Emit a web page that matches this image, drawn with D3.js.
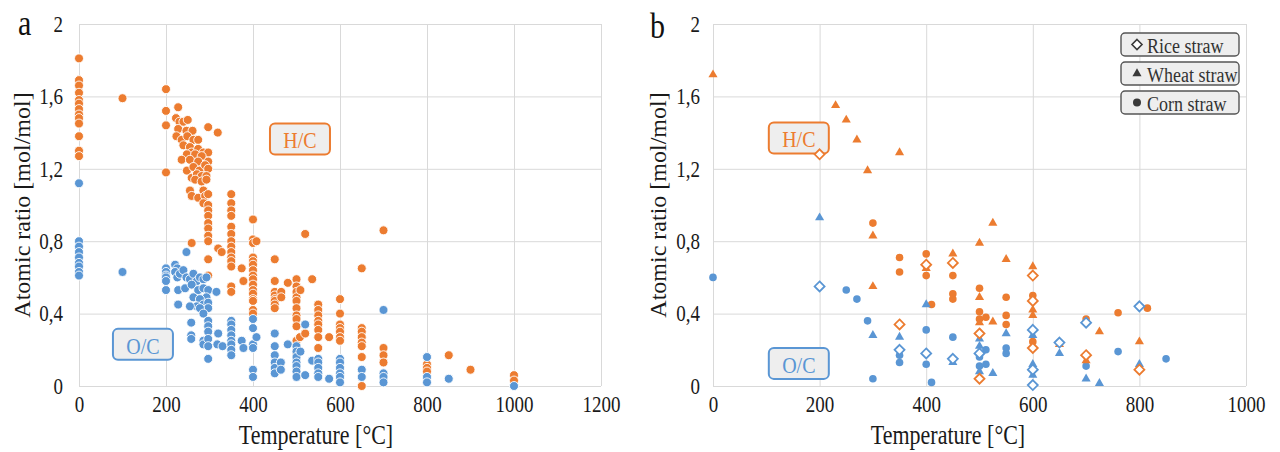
<!DOCTYPE html>
<html><head><meta charset="utf-8">
<script src="https://cdn.jsdelivr.net/npm/d3@7"></script>
<style>
html,body{margin:0;padding:0;background:#fff;}
svg{display:block;}
</style></head><body>
<svg id="chart" width="1280" height="452"></svg>
<script>
// ---------- data ----------
const tempTicksA = [0, 200, 400, 600, 800, 1000, 1200];
const tempTicksB = [0, 200, 400, 600, 800, 1000];
const ratioTicks = [0, 0.4, 0.8, 1.2, 1.6, 2];
const panelLetters = ["a", "b"];
const xTitle = "Temperature [°C]";
const yTitle = "Atomic ratio [mol/mol]";
const seriesNames = ["H/C", "O/C"];
const legendLabels = ["Rice straw", "Wheat straw", "Corn straw"];

// panel a — all straw chars, [temperature °C, ratio]
const hcAll = [
  [0,1.81],[0,1.69],[0,1.66],[0,1.62],[0,1.58],[0,1.56],[0,1.53],[0,1.50],[0,1.48],[0,1.45],[0,1.38],[0,1.30],[0,1.27],
  [100,1.59],
  [200,1.64],[200,1.52],[200,1.44],[200,1.18],
  [228,1.54],[223,1.48],[231,1.46],[240,1.46],[250,1.47],[228,1.42],[247,1.41],[261,1.41],[297,1.43],[319,1.40],
  [224,1.38],[236,1.36],[249,1.38],[263,1.36],[274,1.36],[240,1.33],[255,1.32],[259,1.29],[274,1.31],[286,1.29],[297,1.29],
  [248,1.28],[267,1.28],[282,1.27],[236,1.25],[255,1.25],[274,1.24],[297,1.24],[248,1.19],[263,1.21],[277,1.19],[290,1.22],[297,1.20],
  [259,1.15],[271,1.17],[282,1.16],[293,1.16],[267,1.14],[282,1.13],[293,1.14],[255,1.08],[286,1.08],[259,1.05],[274,1.04],[290,1.05],[297,1.06],
  [286,1.01],[297,1.00],[297,0.97],[297,0.94],[297,0.90],[297,0.87],[297,0.83],[297,0.80],[297,0.70],[297,0.61],
  [259,0.79],[320,0.76],[328,0.74],
  [350,1.06],[350,1.01],[350,0.97],[350,0.94],[350,0.88],[350,0.84],[350,0.80],[350,0.77],[350,0.74],[350,0.71],[350,0.69],[350,0.66],[350,0.55],[350,0.52],
  [374,0.65],[378,0.58],
  [400,0.92],[400,0.81],[400,0.79],[400,0.71],[400,0.69],[400,0.67],[400,0.64],[400,0.61],[400,0.59],[400,0.56],[400,0.53],[400,0.51],[400,0.48],[400,0.47],[400,0.42],[400,0.40],
  [408,0.80],
  [450,0.70],[450,0.58],[450,0.52],[450,0.50],[450,0.48],[450,0.47],[450,0.45],[450,0.43],
  [465,0.52],[465,0.49],[480,0.57],
  [500,0.59],[500,0.55],[500,0.52],[500,0.49],[500,0.47],[500,0.43],[500,0.39],[500,0.37],[500,0.33],[500,0.25],[500,0.21],[500,0.18],
  [509,0.53],[520,0.84],[536,0.59],[508,0.27],[520,0.29],
  [550,0.45],[550,0.42],[550,0.39],[550,0.36],[550,0.34],[550,0.31],[550,0.27],[550,0.21],
  [575,0.27],
  [600,0.48],[600,0.40],[600,0.34],[600,0.32],[600,0.30],[600,0.27],[600,0.25],
  [650,0.65],[650,0.32],[650,0.30],[650,0.27],[650,0.24],[650,0.22],[650,0.16],[650,0.00],
  [700,0.86],[700,0.21],[700,0.17],[700,0.13],
  [800,0.12],[800,0.10],[800,0.08],
  [850,0.17],[900,0.09],[1000,0.06],[1000,0.03]
];
const ocAll = [
  [0,1.12],[0,0.80],[0,0.77],[0,0.74],[0,0.71],[0,0.68],[0,0.66],[0,0.63],[0,0.61],
  [100,0.63],
  [200,0.65],[200,0.63],[200,0.61],[200,0.60],[200,0.58],[200,0.53],
  [247,0.74],
  [221,0.67],[226,0.65],[221,0.63],[226,0.60],[232,0.62],[240,0.64],[247,0.60],[255,0.59],[263,0.62],[271,0.58],[278,0.60],[286,0.59],[293,0.60],
  [228,0.53],[244,0.54],[259,0.56],[274,0.53],[286,0.54],[297,0.53],[293,0.49],[263,0.49],[278,0.48],[286,0.45],[271,0.44],[255,0.44],[228,0.45],
  [297,0.46],[297,0.43],[278,0.43],[286,0.40],[316,0.52],
  [258,0.35],[258,0.28],[258,0.26],[286,0.25],[286,0.23],[297,0.36],[297,0.33],[297,0.30],[297,0.26],[297,0.22],[297,0.15],[320,0.29],[318,0.23],[330,0.22],
  [350,0.36],[350,0.34],[350,0.31],[350,0.28],[350,0.25],[350,0.23],[350,0.20],[350,0.17],
  [374,0.25],[378,0.21],
  [400,0.37],[400,0.32],[400,0.23],[400,0.21],[400,0.09],[400,0.05],
  [408,0.27],
  [450,0.29],[450,0.22],[450,0.17],[450,0.13],[450,0.10],[450,0.07],
  [464,0.13],[464,0.09],[480,0.23],
  [500,0.22],[500,0.19],[500,0.16],[500,0.13],[500,0.11],[500,0.08],[500,0.05],
  [509,0.19],[520,0.34],[520,0.06],[536,0.14],
  [550,0.15],[550,0.13],[550,0.10],[550,0.07],[550,0.05],
  [575,0.04],
  [600,0.15],[600,0.13],[600,0.10],[600,0.07],[600,0.05],[600,0.02],
  [650,0.09],[650,0.05],
  [700,0.42],[700,0.07],[700,0.05],[700,0.02],
  [800,0.16],[800,0.05],[800,0.02],
  [850,0.04],[1000,0.00]
];

// panel b — by feedstock
const riceHC = [[200,1.28],[350,0.34],[400,0.67],[450,0.68],[500,0.29],[500,0.04],[600,0.61],[600,0.47],[600,0.21],[700,0.17],[800,0.09]];
const riceOC = [[200,0.55],[350,0.20],[400,0.18],[450,0.15],[500,0.18],[600,0.31],[600,0.09],[600,0.005],[650,0.24],[700,0.35],[800,0.44]];
const wheatHC = [[0,1.72],[230,1.55],[250,1.47],[270,1.36],[290,1.19],[350,1.29],[300,0.83],[300,0.55],[400,0.65],[450,0.73],[500,0.79],[500,0.49],[500,0.35],
  [525,0.90],[525,0.355],[550,0.70],[600,0.66],[600,0.42],[600,0.39],[650,0.23],[700,0.14],[725,0.30],[800,0.245]];
const wheatOC = [[200,0.93],[300,0.28],[350,0.27],[400,0.45],[450,0.13],[500,0.26],[500,0.22],[500,0.08],[525,0.07],[550,0.29],[600,0.28],[600,0.12],[600,0.06],
  [650,0.18],[700,0.04],[725,0.015],[800,0.12]];
const cornHC = [[300,0.90],[350,0.71],[350,0.63],[400,0.73],[400,0.61],[410,0.45],[450,0.61],[450,0.51],[450,0.48],[500,0.54],[500,0.41],[500,0.37],[512,0.38],
  [550,0.49],[550,0.39],[550,0.34],[600,0.50],[600,0.245],[700,0.37],[760,0.405],[815,0.43]];
const cornOC = [[0,0.60],[250,0.53],[270,0.48],[290,0.36],[300,0.04],[350,0.17],[350,0.13],[400,0.31],[400,0.12],[410,0.02],[450,0.27],[500,0.16],[500,0.11],
  [512,0.20],[512,0.12],[550,0.21],[550,0.18],[700,0.11],[760,0.19],[850,0.15]];

// ---------- styling ----------
const ORANGE = "#EC7C30", BLUE = "#5A96D4";
const SERIF = "'Liberation Serif','Times New Roman',serif";
const GRID = "#d9d9d9";
const TEXT_STRETCH = 1.2;   // tall, narrow lettering

const svg = d3.select("#chart");
const yScale = d3.scaleLinear().domain([0, 2]).range([386, 24]);
const xA = d3.scaleLinear().domain([0, 1200]).range([79, 601]);
const xB = d3.scaleLinear().domain([0, 1000]).range([713, 1246]);

const commaLocale = d3.formatLocale({decimal: ",", thousands: ".", grouping: [3], currency: ["", ""]});
const fmtRatio = commaLocale.format("~g");

function drawFrame(x, ticks, pad, letter, letterPos, yTitleX, xTitleX) {
  const g = svg.append("g");
  const gx = g.append("g")
    .attr("transform", `translate(0,${yScale(0)})`)
    .call(d3.axisBottom(x).tickValues(ticks).tickSize(-(yScale(0) - yScale(2))).tickPadding(10).tickFormat(d3.format("d")));
  gx.select(".domain").remove();
  gx.selectAll("line").attr("stroke", GRID);
  gx.attr("font-family", SERIF).attr("font-size", 19);
  gx.selectAll("text").attr("fill", "#1a1a1a");

  const gy = g.append("g")
    .attr("transform", `translate(${x.range()[0]},0)`)
    .call(d3.axisLeft(yScale).tickValues(ratioTicks).tickSize(-(x.range()[1] - x.range()[0])).tickPadding(pad).tickFormat(fmtRatio));
  gy.select(".domain").remove();
  gy.selectAll("line").attr("stroke", GRID);
  gy.attr("font-family", SERIF).attr("font-size", 19);
  gy.selectAll("text").attr("fill", "#1a1a1a");

  g.append("text").text(yTitle).attr("class", "ytitle")
    .attr("transform", `translate(${yTitleX},${(yScale(0) + yScale(2)) / 2}) rotate(-90)`)
    .attr("text-anchor", "middle").attr("dominant-baseline", "central")
    .attr("font-family", SERIF).attr("font-size", 24).attr("fill", "#1a1a1a");

  g.append("text").text(xTitle)
    .attr("x", xTitleX).attr("y", 444).attr("text-anchor", "middle")
    .attr("font-family", SERIF).attr("font-size", 22).attr("fill", "#1a1a1a");

  g.append("text").text(letter)
    .attr("x", letterPos[0]).attr("y", letterPos[1])
    .attr("font-family", SERIF).attr("font-size", 30).attr("fill", "#111");
}

function tag(x, t, v, label, color) {
  const cx = x(t), cy = yScale(v);
  const g = svg.append("g");
  g.append("rect").attr("x", cx - 30).attr("y", cy - 15.5).attr("width", 60).attr("height", 31)
    .attr("rx", 5).attr("fill", "#eeeeee").attr("stroke", color).attr("stroke-width", 2);
  g.append("text").text(label).attr("x", cx).attr("y", cy + 1)
    .attr("text-anchor", "middle").attr("dominant-baseline", "central")
    .attr("font-family", SERIF).attr("font-size", 20).attr("fill", color);
}

// ---------- panel a ----------
drawFrame(xA, tempTicksA, 16, panelLetters[0], [18, 35], 22, 316);
tag(xA, 508, 1.365, seriesNames[0], ORANGE);
tag(xA, 147, 0.23, seriesNames[1], BLUE);

[[hcAll, ORANGE], [ocAll, BLUE]].forEach(([data, color]) => {
  svg.append("g").selectAll("circle").data(data).join("circle")
    .attr("cx", d => xA(d[0])).attr("cy", d => yScale(d[1])).attr("r", 4.5)
    .attr("fill", color).attr("stroke", "#fff").attr("stroke-width", 0.9);
});

// ---------- panel b ----------
drawFrame(xB, tempTicksB, 13, panelLetters[1], [650, 38], 658, 948);
tag(xB, 161, 1.37, seriesNames[0], ORANGE);
tag(xB, 161, 0.125, seriesNames[1], BLUE);

const triPath = d3.symbol(d3.symbolTriangle, 36)();
const diaPath = "M0,-5L5,0L0,5L-5,0Z";

function circles(data, color) {
  svg.append("g").selectAll("circle").data(data).join("circle")
    .attr("cx", d => xB(d[0])).attr("cy", d => yScale(d[1])).attr("r", 3.8)
    .attr("fill", color);
}
function triangles(data, color) {
  svg.append("g").selectAll("path").data(data).join("path")
    .attr("d", triPath).attr("transform", d => `translate(${xB(d[0])},${yScale(d[1])})`)
    .attr("fill", color);
}
function diamonds(data, color) {
  svg.append("g").selectAll("path").data(data).join("path")
    .attr("d", diaPath).attr("transform", d => `translate(${xB(d[0])},${yScale(d[1])})`)
    .attr("fill", "#fff").attr("stroke", color).attr("stroke-width", 1.8);
}
circles(cornHC, ORANGE); circles(cornOC, BLUE);
triangles(wheatHC, ORANGE); triangles(wheatOC, BLUE);
diamonds(riceHC, ORANGE); diamonds(riceOC, BLUE);

// legend
const lg = svg.append("g").attr("transform", "translate(1121,33)");
const symDark = "#3a3a3a";
legendLabels.forEach((name, i) => {
  const row = lg.append("g").attr("transform", `translate(0,${i * 29})`);
  row.append("rect").attr("width", 118).attr("height", 23).attr("rx", 4)
    .attr("fill", "#eeeeee").attr("stroke", "#555").attr("stroke-width", 1.4);
  const s = row.append("g").attr("transform", "translate(16,11.5)");
  if (i === 0) s.append("path").attr("d", diaPath).attr("fill", "#fff").attr("stroke", symDark).attr("stroke-width", 1.6);
  if (i === 1) s.append("path").attr("d", triPath).attr("fill", symDark);
  if (i === 2) s.append("circle").attr("r", 4).attr("fill", symDark);
  row.append("text").text(name).attr("x", 26).attr("y", 12)
    .attr("dominant-baseline", "central")
    .attr("font-family", SERIF).attr("font-size", 18).attr("fill", "#333");
});

// stretch horizontal lettering vertically about each label's own anchor line
svg.selectAll("text").each(function () {
  const t = d3.select(this);
  if (t.classed("ytitle")) return;
  const y0 = +t.attr("y") || 0;
  t.attr("transform", `translate(0,${y0}) scale(1,${TEXT_STRETCH}) translate(0,${-y0})`);
});
</script>
</body></html>
